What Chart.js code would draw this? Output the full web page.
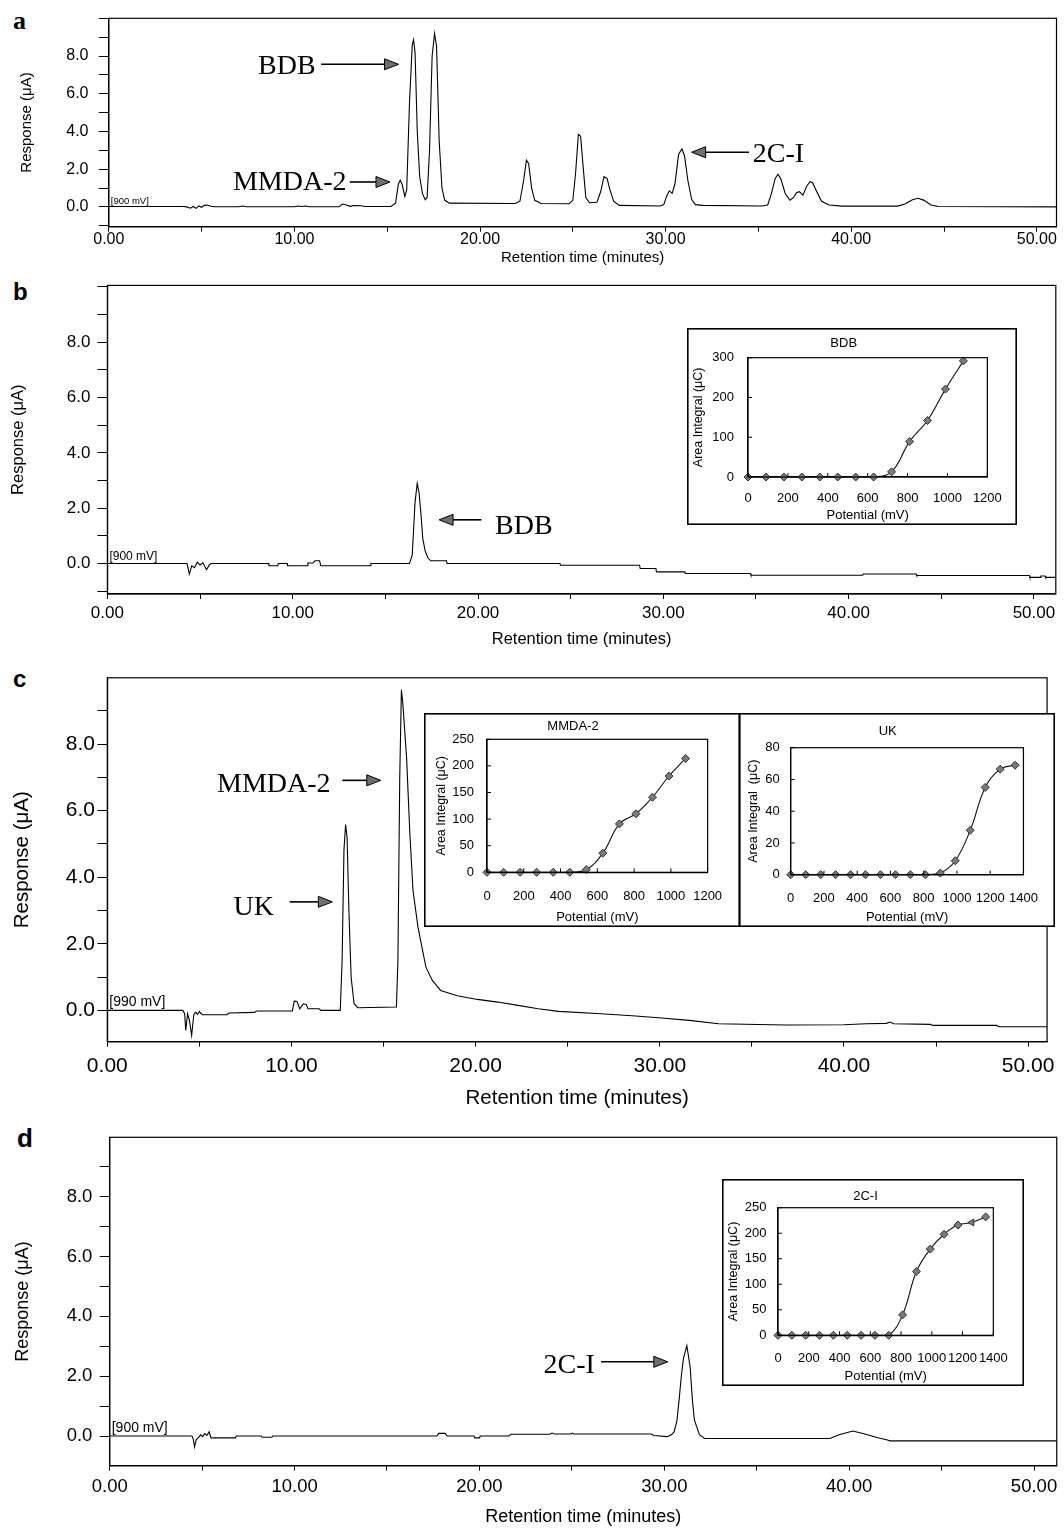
<!DOCTYPE html>
<html>
<head>
<meta charset="utf-8">
<title>Chromatograms a-d</title>
<script src="https://cdn.jsdelivr.net/npm/chart.js@4.4.1/dist/chart.umd.min.js"></script>
<style>
  body { margin: 0; background: #fff; }
  #page { position: relative; width: 1064px; height: 1529px; overflow: hidden; background: #fff; }
  #page canvas { position: absolute; }
  .tag { position: absolute; line-height: 1; color: #000; font-weight: bold; }
</style>
</head>
<body>
<div id="page">
  <div class="tag" style="left:13px;top:8px;font-family:'Liberation Serif',serif;font-size:26px;">a</div>
  <div class="tag" style="left:13px;top:280px;font-family:'Liberation Sans',Arial,sans-serif;font-size:24px;">b</div>
  <div class="tag" style="left:13px;top:667px;font-family:'Liberation Sans',Arial,sans-serif;font-size:24px;">c</div>
  <div class="tag" style="left:17px;top:1125px;font-family:'Liberation Sans',Arial,sans-serif;font-size:26px;">d</div>
</div>
<script>
// ============================================
// Chromatograms (a-d) with voltammogram insets
// ============================================

// --- Chromatogram traces: [retention time (min), response (uA)] ---
const traceA = [
  [0, 0.02], [4.0, 0.02], [4.2, 0.0], [4.4, -0.07], [4.55, 0.02], [4.7, -0.08], [4.85, 0.05], [5.0, -0.02],
  [5.15, 0.08], [5.3, 0.1], [5.5, 0.03], [5.7, 0.01], [7.0, 0.01], [7.2, 0.05], [7.4, 0.01], [10.0, 0.01],
  [10.2, 0.05], [10.4, 0.02], [10.6, 0.05], [10.8, 0.01], [12.4, 0.01], [12.6, 0.15], [12.8, 0.1], [13.0, 0.03],
  [13.2, 0.07], [13.6, 0.06], [13.8, 0.02], [15.2, 0.02], [15.45, 0.2], [15.6, 1.2], [15.7, 1.41], [15.8, 1.2],
  [15.95, 0.55], [16.05, 0.9], [16.2, 5.5], [16.35, 8.6], [16.42, 8.86], [16.5, 8.2], [16.62, 4.0], [16.75, 1.6],
  [16.9, 0.7], [17.05, 0.38], [17.15, 0.5], [17.28, 3.0], [17.42, 8.0], [17.55, 9.2], [17.66, 8.5], [17.8, 3.5],
  [17.95, 1.0], [18.1, 0.35], [18.35, 0.2], [21.9, 0.18], [22.15, 0.3], [22.35, 1.4], [22.5, 2.47], [22.62, 2.3],
  [22.78, 1.0], [22.95, 0.35], [23.3, 0.18], [24.8, 0.17], [25.0, 0.35], [25.15, 1.8], [25.3, 3.85], [25.42, 3.75],
  [25.55, 2.2], [25.7, 0.5], [25.9, 0.22], [26.3, 0.25], [26.5, 0.8], [26.68, 1.6], [26.85, 1.5], [27.0, 0.9],
  [27.2, 0.3], [27.5, 0.08], [29.7, 0.05], [29.9, 0.12], [30.05, 0.55], [30.2, 0.85], [30.35, 0.72], [30.5, 1.2],
  [30.7, 2.8], [30.88, 3.07], [31.02, 2.7], [31.2, 1.4], [31.4, 0.4], [31.6, 0.12], [32.0, 0.08], [35.2, 0.05],
  [35.5, 0.1], [35.7, 0.7], [35.9, 1.5], [36.05, 1.73], [36.2, 1.5], [36.45, 0.7], [36.7, 0.35], [36.9, 0.5],
  [37.05, 0.75], [37.2, 0.81], [37.4, 0.63], [37.6, 1.1], [37.78, 1.34], [37.92, 1.28], [38.1, 0.9], [38.4, 0.3],
  [38.8, 0.1], [39.5, 0.04], [42.5, 0.04], [42.9, 0.15], [43.3, 0.38], [43.6, 0.46], [43.9, 0.36], [44.3, 0.1],
  [44.7, 0.02], [51.06, 0.0]
];

const traceB = [
  [0, 0], [4.3, 0], [4.42, -0.38], [4.55, -0.08], [4.7, -0.15], [4.85, 0.05], [5.0, -0.05], [5.15, 0.03],
  [5.35, -0.22], [5.5, -0.05], [5.6, 0], [8.7, 0], [8.72, -0.08], [9.2, -0.08], [9.22, 0], [9.7, 0],
  [9.72, -0.08], [10.8, -0.08], [10.82, 0.02], [11.1, 0.02], [11.2, 0.1], [11.45, 0.1], [11.52, -0.08], [14.2, -0.08],
  [14.22, 0], [16.3, 0], [16.45, 0.3], [16.6, 2.2], [16.72, 2.9], [16.82, 2.55], [16.92, 1.8], [17.02, 0.9],
  [17.15, 0.45], [17.3, 0.2], [17.45, 0.1], [18.3, 0.1], [18.33, 0], [24.42, 0], [24.45, -0.06], [28.72, -0.06],
  [28.75, -0.18], [29.6, -0.18], [29.63, -0.3], [31.16, -0.3], [31.19, -0.36], [34.7, -0.36], [34.73, -0.42], [40.76, -0.42],
  [40.79, -0.38], [43.64, -0.38], [43.67, -0.43], [49.75, -0.43], [49.78, -0.5], [50.34, -0.5], [50.37, -0.45], [50.6, -0.45],
  [50.63, -0.5], [51.18, -0.5]
];

const traceC = [
  [0, 0], [4.1, 0], [4.2, -0.1], [4.26, -0.6], [4.36, -0.1], [4.46, -0.3], [4.58, -0.75], [4.7, -0.12],
  [4.8, -0.05], [4.9, -0.12], [5.0, -0.03], [5.1, -0.1], [5.2, -0.13], [6.5, -0.13], [6.6, -0.08], [8.0, -0.06],
  [8.1, -0.02], [10.05, -0.02], [10.15, 0.28], [10.3, 0.27], [10.45, 0.05], [10.65, 0.2], [10.8, 0.18], [10.9, 0.05],
  [11.5, 0.05], [11.6, 0], [12.65, 0], [12.75, 1.5], [12.85, 4.8], [12.94, 5.58], [13.02, 5.2], [13.12, 3.0],
  [13.24, 1.0], [13.4, 0.2], [13.6, 0.08], [15.7, 0.1], [15.78, 1.5], [15.88, 7.0], [15.97, 9.63], [16.05, 9.2],
  [16.25, 7.6], [16.43, 5.3], [16.6, 3.6], [16.87, 2.5], [17.3, 1.3], [17.65, 0.9], [18.1, 0.6], [19.0, 0.44],
  [20.1, 0.33], [21.2, 0.25], [22.3, 0.15], [23.4, 0.05], [24.5, -0.03], [26.8, -0.1], [28.5, -0.16], [30.1, -0.23],
  [31.6, -0.3], [33.2, -0.4], [36.8, -0.44], [40.0, -0.43], [41.2, -0.4], [42.3, -0.39], [42.5, -0.35], [42.7, -0.4],
  [44.7, -0.42], [44.8, -0.45], [48.3, -0.45], [48.4, -0.49], [51.03, -0.49]
];

const traceD = [
  [0, 0], [4.45, 0], [4.52, -0.1], [4.59, -0.36], [4.68, -0.12], [4.8, -0.05], [4.92, 0.04], [5.02, -0.02],
  [5.15, 0.08], [5.25, 0.02], [5.38, 0.14], [5.48, -0.06], [6.8, -0.06], [6.85, 0], [8.2, 0], [8.25, -0.04],
  [8.77, -0.04], [8.82, 0], [17.7, 0], [17.8, 0.09], [18.15, 0.09], [18.25, 0], [19.7, 0], [19.75, -0.06],
  [20.0, -0.06], [20.05, 0], [21.6, 0], [21.7, 0.06], [23.8, 0.06], [23.93, 0.1], [24.05, 0.07], [24.95, 0.07],
  [25.03, 0.1], [25.1, 0.07], [29.3, 0.07], [29.43, 0.02], [30.16, -0.02], [30.4, 0.05], [30.53, 0.14], [30.68, 0.5],
  [30.8, 1.2], [30.92, 2.0], [31.04, 2.6], [31.22, 3.02], [31.4, 2.3], [31.52, 1.2], [31.63, 0.53], [31.9, 0.05],
  [32.18, -0.08], [38.95, -0.08], [39.5, 0.05], [40.2, 0.17], [40.8, 0.08], [41.5, -0.05], [42.07, -0.13], [42.2, -0.16],
  [51.23, -0.16]
];

// --- Voltammogram insets: area integral (uC) vs potential (mV) ---
const potentials = [0, 90, 180, 270, 360, 450, 540, 630, 720, 810, 900, 990, 1080, 1170, 1260, 1350];
const areaBDB  = [0, 0, 0, 0, 0, 0, 0, 0, 13, 89, 142, 221, 292];
const areaMMDA = [0, 0, 0, 0, 0, 0, 5, 36, 91, 110, 141, 181, 214];
const areaUK   = [0, 0, 0, 0, 0, 0, 0, 0, 0, 0, 1, 8.8, 28, 55, 66.5, 69];
const area2CI  = [0, 0, 0, 0, 0, 0, 0, 0, 0, 40, 125, 169, 198, 216, 221, 232];

// --- Tick labels ---
const responseTicks = [0, 2, 4, 6, 8];
const timeTicks = [0, 10, 20, 30, 40, 50];

// --- Peak labels (text anchor + arrow, in data units) ---
const notesA = [
  { text: 'BDB', tx: 8.04, ty: 7.47, x1: 11.44, x2: 15.61, ay: 7.56 },
  { text: 'MMDA-2', tx: 6.69, ty: 1.32, x1: 12.98, x2: 15.15, ay: 1.32 },
  { text: '2C-I', tx: 34.7, ty: 2.85, x1: 34.49, x2: 31.4, ay: 2.9 },
];
const notesB = [{ text: 'BDB', tx: 20.92, ty: 1.37, x1: 20.18, x2: 17.9, ay: 1.58 }];
const notesC = [
  { text: 'MMDA-2', tx: 5.96, ty: 6.81, x1: 12.76, x2: 14.85, ay: 6.91 },
  { text: 'UK', tx: 6.85, ty: 3.11, x1: 9.9, x2: 12.22, ay: 3.26 },
];
const notesD = [{ text: '2C-I', tx: 23.47, ty: 2.37, x1: 26.58, x2: 30.19, ay: 2.48 }];

const FONT = "'Liberation Sans', Arial, sans-serif";
const SERIF = "'Liberation Serif', 'Times New Roman', serif";
Chart.defaults.color = '#000';

// --- Helpers ---
function addCanvas(left, top, w, h) {
  const c = document.createElement('canvas');
  c.width = w; c.height = h;
  c.style.left = left + 'px'; c.style.top = top + 'px';
  c.style.width = w + 'px'; c.style.height = h + 'px';
  document.getElementById('page').appendChild(c);
  return c;
}

function drawArrow(ctx, x1, x2, y) {
  const dir = Math.sign(x2 - x1);
  const head = 14, half = 5.5;
  ctx.strokeStyle = '#000';
  ctx.lineWidth = 1.6;
  ctx.beginPath();
  ctx.moveTo(x1, y);
  ctx.lineTo(x2 - dir * head, y);
  ctx.stroke();
  ctx.beginPath();
  ctx.moveTo(x2, y);
  ctx.lineTo(x2 - dir * head, y - half);
  ctx.lineTo(x2 - dir * head, y + half);
  ctx.closePath();
  ctx.fillStyle = '#6e6e6e';
  ctx.fill();
  ctx.lineWidth = 1;
  ctx.stroke();
}

// box around plot area, inner ticks, peak labels, [mV] tag
function framePlugin(cfg) {
  return {
    id: 'frame',
    beforeDraw(chart) {
      if (!cfg.inset) return;
      const { ctx } = chart;
      ctx.save();
      ctx.fillStyle = '#fff';
      ctx.fillRect(0, 0, chart.width, chart.height);
      ctx.restore();
    },
    afterDraw(chart) {
      const { ctx, chartArea: ca, scales: { x, y } } = chart;
      ctx.save();
      ctx.strokeStyle = '#000';
      ctx.lineWidth = 1.2;
      ctx.strokeRect(ca.left, ca.top, ca.right - ca.left, ca.bottom - ca.top);

      if (cfg.inset) {
        ctx.lineWidth = 1;
        ctx.beginPath();
        x.ticks.forEach(t => {
          const px = x.getPixelForValue(t.value);
          ctx.moveTo(px, ca.bottom); ctx.lineTo(px, ca.bottom - 4);
        });
        y.ticks.forEach(t => {
          const py = y.getPixelForValue(t.value);
          ctx.moveTo(ca.left, py); ctx.lineTo(ca.left + 4, py);
        });
        ctx.stroke();
        ctx.lineWidth = 1.6;
        ctx.strokeRect(0.8, 0.8, chart.width - 1.6, chart.height - 1.6);
      }

      if (cfg.mv) {
        ctx.font = cfg.mvSize + 'px ' + FONT;
        ctx.fillStyle = '#000';
        ctx.textAlign = 'left';
        ctx.textBaseline = 'bottom';
        ctx.fillText(cfg.mv, ca.left + 2, y.getPixelForValue(0) - 1);
      }

      (cfg.notes || []).forEach(n => {
        ctx.font = '28px ' + SERIF;
        ctx.fillStyle = '#000';
        ctx.textAlign = 'left';
        ctx.textBaseline = 'middle';
        ctx.fillText(n.text, x.getPixelForValue(n.tx), y.getPixelForValue(n.ty) + 1);
        drawArrow(ctx, x.getPixelForValue(n.x1), x.getPixelForValue(n.x2), y.getPixelForValue(n.ay));
      });
      ctx.restore();
    }
  };
}

// --- Main chromatogram panel ---
function chromatogram(p) {
  const W = 1064;
  const canvas = addCanvas(0, p.top, W, p.height);
  const [pl, pt, pr, pb] = p.plot; // plot edges relative to the canvas
  new Chart(canvas, {
    type: 'line',
    data: {
      datasets: [{
        data: p.trace.map(([t, r]) => ({ x: t, y: r })),
        borderColor: '#000',
        borderWidth: 1.1,
        pointRadius: 0,
        tension: 0,
        fill: false,
      }],
    },
    options: {
      responsive: false,
      animation: false,
      events: [],
      layout: { autoPadding: false, padding: { left: 0, top: pt, right: W - pr, bottom: 0 } },
      plugins: { legend: { display: false }, tooltip: { enabled: false } },
      scales: {
        x: {
          type: 'linear', min: 0, max: p.xMax,
          afterFit: s => { s.height = p.height - pb; },
          border: { color: '#000', width: 1.2 },
          grid: { drawOnChartArea: false, tickLength: 5, color: '#000' },
          ticks: {
            stepSize: 5, includeBounds: false, autoSkip: false, maxRotation: 0,
            padding: p.xTickPad, color: '#000',
            font: { family: FONT, size: p.tick, lineHeight: 1 },
            callback: v => timeTicks.includes(v) ? v.toFixed(2) : '',
          },
          title: {
            display: true, text: 'Retention time (minutes)', color: '#000',
            font: { family: FONT, size: p.title, lineHeight: 1.2 },
            padding: { top: 0, bottom: p.xTitlePad },
          },
        },
        y: {
          type: 'linear', min: p.yMin, max: p.yMax,
          afterFit: s => { s.width = pl; },
          border: { color: '#000', width: 1.2 },
          grid: { drawOnChartArea: false, tickLength: 10, color: '#000' },
          ticks: {
            stepSize: 1, includeBounds: false, autoSkip: false, maxTicksLimit: 100,
            padding: p.yTickPad, color: '#000',
            font: { family: FONT, size: p.tick, lineHeight: 1 },
            callback: v => responseTicks.includes(v) ? v.toFixed(1) : '',
          },
          title: {
            display: true, text: 'Response (\u03bcA)', color: '#000',
            font: { family: FONT, size: p.title, lineHeight: 1.2 },
            padding: { top: p.yTitlePad, bottom: 0 },
          },
        },
      },
    },
    plugins: [framePlugin({ notes: p.notes, mv: p.mv, mvSize: p.mvSize })],
  });
}

// --- Inset voltammogram ---
function inset(p) {
  const [bx, by, bw, bh] = p.box;
  const canvas = addCanvas(bx, by, bw, bh);
  const [pl, pt, pr, pb] = p.plot; // distances from the box edges
  new Chart(canvas, {
    type: 'line',
    data: {
      datasets: [{
        data: p.values.map((v, i) => ({ x: potentials[i], y: v })),
        borderColor: '#111',
        borderWidth: 1.1,
        tension: 0.4,
        clip: false,
        pointStyle: c => (c.raw && c.raw.x === p.triangleAt) ? 'triangle' : 'rectRot',
        pointRotation: c => (c.raw && c.raw.x === p.triangleAt) ? -90 : 0,
        pointRadius: 4,
        pointBackgroundColor: '#7a7a7a',
        pointBorderColor: '#333',
        pointBorderWidth: 1,
      }],
    },
    options: {
      responsive: false,
      animation: false,
      events: [],
      layout: { autoPadding: false, padding: { left: 0, top: 0, right: pr, bottom: 0 } },
      plugins: {
        legend: { display: false },
        tooltip: { enabled: false },
        title: {
          display: true, text: p.name, color: '#000',
          font: { family: FONT, size: 13, weight: 'normal', lineHeight: 1.2 },
          padding: { top: p.titlePad, bottom: pt - p.titlePad - 15.6 },
        },
      },
      scales: {
        x: {
          type: 'linear', min: 0, max: p.xMax,
          afterFit: s => { s.height = pb; },
          border: { color: '#000', width: 1.2 },
          grid: { drawOnChartArea: false, drawTicks: false },
          ticks: {
            stepSize: 200, autoSkip: false, maxRotation: 0, padding: p.xTickPad, color: '#000',
            font: { family: FONT, size: 13, lineHeight: 1 },
            callback: v => String(v),
          },
          title: {
            display: true, text: 'Potential (mV)', color: '#000',
            font: { family: FONT, size: 13, lineHeight: 1.2 },
            padding: { top: 0, bottom: p.xTitlePad },
          },
        },
        y: {
          type: 'linear', min: 0, max: p.yMax,
          afterFit: s => { s.width = pl; },
          border: { color: '#000', width: 1.2 },
          grid: { drawOnChartArea: false, drawTicks: false },
          ticks: {
            stepSize: p.yStep, autoSkip: false, padding: p.yTickPad, color: '#000',
            font: { family: FONT, size: 13, lineHeight: 1 },
            callback: v => String(v),
          },
          title: {
            display: true, text: p.yTitle, color: '#000',
            font: { family: FONT, size: 12.5, lineHeight: 1.2 },
            padding: { top: p.yTitlePad, bottom: 0 },
          },
        },
      },
    },
    plugins: [framePlugin({ inset: true })],
  });
}

// --- Build panels ---
function init() {
  chromatogram({
    trace: traceA, notes: notesA, mv: '[900 mV]', mvSize: 9.5,
    top: 0, height: 270, plot: [108.8, 17.3, 1056.5, 226.7],
    yMin: -1.05, yMax: 10, xMax: 51.06,
    tick: 16, title: 15, yTickPad: 10.3, xTickPad: 0.3, yTitlePad: 18, xTitlePad: 2.7,
  });
  chromatogram({
    trace: traceB, notes: notesB, mv: '[900 mV]', mvSize: 12,
    top: 270, height: 395, plot: [107.4, 12.7, 1055.8, 324],
    yMin: -1.1, yMax: 10.05, xMax: 51.18,
    tick: 17, title: 16.5, yTickPad: 6.9, xTickPad: 5.8, yTitlePad: 8.7, xTitlePad: 16.1,
  });
  chromatogram({
    trace: traceC, notes: notesC, mv: '[990 mV]', mvSize: 14,
    top: 665, height: 450, plot: [107.3, 7.7, 1058, 376.7],
    yMin: -0.94, yMax: 9.99, xMax: 51.03,
    tick: 21, title: 20.5, yTickPad: 2.3, xTickPad: 9.5, yTitlePad: 10.2, xTitlePad: 4.7,
  });
  chromatogram({
    trace: traceD, notes: notesD, mv: '[900 mV]', mvSize: 14,
    top: 1115, height: 414, plot: [109.7, 22.3, 1060.6, 350.7],
    yMin: -0.99, yMax: 9.98, xMax: 51.23,
    tick: 18.5, title: 18, yTickPad: 7.3, xTickPad: 6.75, yTitlePad: 12.2, xTitlePad: 1.5,
  });

  inset({
    name: 'BDB', values: areaBDB, yTitle: 'Area Integral (\u03bcC)',
    box: [687, 328, 330, 197], plot: [61, 29.7, 16.6, 48],
    xMax: 1200, yMax: 300, yStep: 100,
    titlePad: 7.2, xTickPad: 15.2, yTickPad: 14, yTitlePad: 4, xTitlePad: 1.5,
  });
  inset({
    name: 'MMDA-2', values: areaMMDA, yTitle: 'Area Integral (\u03bcC)',
    box: [424, 713, 316, 214], plot: [63, 26.3, 18, 54.7],
    xMax: 1200, yMax: 250, yStep: 50,
    titlePad: 5.9, xTickPad: 17.9, yTickPad: 13, yTitlePad: 10, xTitlePad: 2.2,
  });
  inset({
    name: 'UK', values: areaUK, yTitle: 'Area Integral  (\u03bcC)',
    box: [739, 713, 316, 214], plot: [51.7, 34.7, 18.5, 52.3],
    xMax: 1400, yMax: 80, yStep: 20,
    titlePad: 10.9, xTickPad: 17.1, yTickPad: 11, yTitlePad: 7.5, xTitlePad: 1.8,
  });
  inset({
    name: '2C-I', values: area2CI, yTitle: 'Area Integral (\u03bcC)', triangleAt: 1260,
    box: [722, 1179, 302, 207], plot: [56, 28.7, 15, 50.7],
    xMax: 1400, yMax: 250, yStep: 50,
    titlePad: 9.9, xTickPad: 16.2, yTickPad: 11.6, yTitlePad: 4.5, xTitlePad: 1.5,
  });
}

init();
</script>
</body>
</html>
